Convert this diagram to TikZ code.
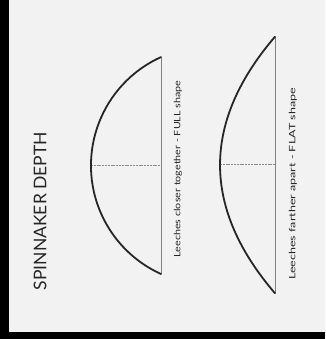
\documentclass[tikz,border=0pt]{standalone}
\usepackage{fontspec}
\setmainfont{Lato}
\begin{document}
\begin{tikzpicture}[x=1pt,y=1pt,
  sail/.style={line width=1.8pt, draw=black!85, line cap=round},
  chord/.style={line width=0.8pt, draw=black!50},
  depth/.style={line width=0.5pt, draw=black!45, dash pattern=on 2pt off 0.8pt},
  caption/.style={rotate=90, text=black!85, font=\fontsize{8.8}{10}\selectfont, inner sep=0pt},
  titlestyle/.style={rotate=90, text=black!85, font=\fontsize{17.5}{20}\selectfont, inner sep=0pt}]
\fill[black!5] (0,0) rectangle (325,339);
\useasboundingbox (0,0) rectangle (325,339);
\fill[black] (0,0) rectangle (8.5,339);
\fill[black] (0,0) rectangle (325,7.3);
% title
\node[titlestyle] (title) at (40,128) {SPINNAKER DEPTH};
% sail 1 (full)
\coordinate (s1t) at (161,281.9);
\coordinate (s1b) at (161,65.1);
\coordinate (s1a) at (91,173.5);
\coordinate (s1m) at (161,173.5);
\draw[chord] (s1t) -- (s1b);
\draw[depth] (s1a) -- (s1m);
\draw[sail] (s1t) arc[start angle=114.3, end angle=245.7, radius=119];
\node[caption] (cap1) at (178,170) {\scalebox{1.22}[1]{Leeches closer together - FULL shape}};
% sail 2 (flat)
\coordinate (s2t) at (275,302.3);
\coordinate (s2b) at (275,45.7);
\coordinate (s2a) at (220,174.5);
\coordinate (s2m) at (275,174.5);
\draw[chord] (s2t) -- (s2b);
\draw[depth] (s2a) -- (s2m);
\draw[sail] (s2t) .. controls (201.7,216.8) and (201.7,131.2) .. (s2b);
\node[caption] (cap2) at (293,155) {\scalebox{1.42}[1]{Leeches farther apart - FLAT shape}};
\end{tikzpicture}
\end{document}
